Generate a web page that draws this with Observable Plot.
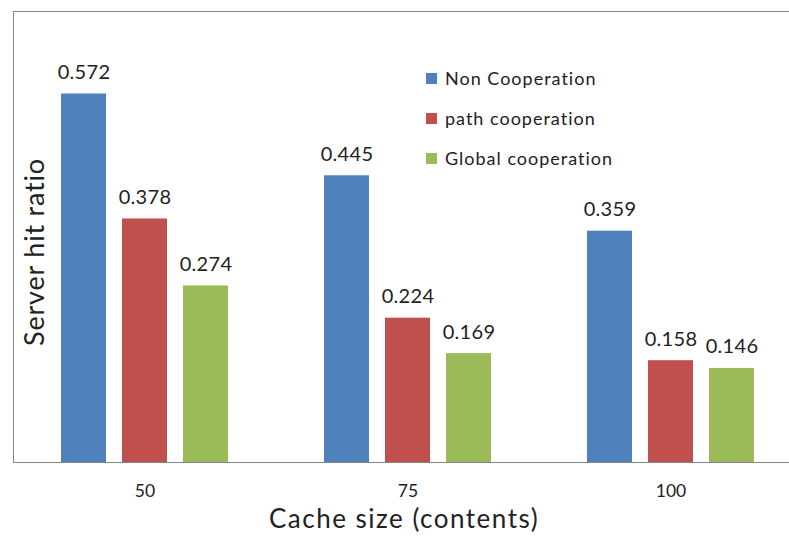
<!DOCTYPE html>
<html>
<head>
<meta charset="utf-8">
<script src="https://cdn.jsdelivr.net/npm/d3@7"></script>
<script src="https://cdn.jsdelivr.net/npm/@observablehq/plot@0.6"></script>
<style>
  html, body { margin: 0; padding: 0; background: #fff; overflow: hidden; width: 789px; height: 539px; }
  #chart { position: relative; width: 789px; height: 539px; overflow: hidden; }
  .legend { position: absolute; left: 426px; top: 66px; font-family: Lato, sans-serif; font-size: 18px; letter-spacing: 1px; color: #222; }
  .legend .row { display: flex; align-items: center; height: 24px; margin-bottom: 16px; white-space: nowrap; }
  .legend .sw { width: 11px; height: 11px; margin-right: 8px; flex: none; }
  .value-label text { letter-spacing: 0.3px; }
  .y-title text { letter-spacing: 0.8px; }
  .x-title text { letter-spacing: 1.5px; }
</style>
</head>
<body>
<div id="chart"></div>
<script>
// Server hit ratio by cache size for three caching strategies
const cacheSizes = ["50", "75", "100"];
const seriesNames = ["Non Cooperation", "path cooperation", "Global cooperation"];
const nonCooperation = [0.572, 0.445, 0.359];
const pathCooperation = [0.378, 0.224, 0.158];
const globalCooperation = [0.274, 0.169, 0.146];
const seriesColors = ["#4F81BD", "#C0504D", "#9BBB59"];

const seriesValues = [nonCooperation, pathCooperation, globalCooperation];
const rows = cacheSizes.flatMap((size, i) =>
  seriesNames.map((series, j) => ({size, series, value: seriesValues[j][i]}))
);

const axisGrey = "#868686";

const chart = Plot.plot({
  width: 803,
  height: 539,
  marginLeft: 12,
  marginRight: 0,
  marginTop: 11,
  marginBottom: 77,
  facet: {marginTop: 0, marginRight: 0, marginBottom: 0, marginLeft: 0},
  style: {fontFamily: "Lato, sans-serif", color: "#222", background: "white", maxWidth: "none"},
  fx: {domain: cacheSizes, padding: 0, label: null, axis: null},
  x: {domain: seriesNames, paddingInner: 0.268, paddingOuter: 0.772, axis: null},
  y: {domain: [0, 0.7], axis: null},
  color: {domain: seriesNames, range: seriesColors},
  marks: [
    Plot.axisFx({anchor: "bottom", tickSize: 0, tickPadding: 22, fontSize: 17.5, label: null}),
    Plot.barY(rows, {fx: "size", x: "series", y: "value", fill: "series"}),
    Plot.text(rows, {
      fx: "size", x: "series", y: "value",
      text: (d) => d.value.toFixed(3),
      lineAnchor: "bottom", dy: -15, fontSize: 20, fill: "#222",
      className: "value-label"
    }),
    Plot.frame({anchor: "top", stroke: axisGrey, facet: "super"}),
    Plot.frame({anchor: "bottom", stroke: axisGrey, facet: "super"}),
    Plot.frame({anchor: "left", stroke: axisGrey, facet: "super"}),
    Plot.text(["Server hit ratio"], {
      frameAnchor: "left", facet: "super", rotate: -90,
      textAnchor: "middle", lineAnchor: "middle",
      dx: 22, dy: 15, fontSize: 27, fill: "#222",
      className: "y-title"
    }),
    Plot.text(["Cache size (contents)"], {
      frameAnchor: "bottom", facet: "super",
      textAnchor: "middle", lineAnchor: "bottom",
      dx: -4, dy: 65, fontSize: 26, fill: "#222",
      className: "x-title"
    })
  ]
});

const container = document.getElementById("chart");
container.appendChild(chart);

// Legend
const legend = document.createElement("div");
legend.className = "legend";
seriesNames.forEach((name, i) => {
  const row = document.createElement("div");
  row.className = "row";
  const sw = document.createElement("span");
  sw.className = "sw";
  sw.style.background = seriesColors[i];
  const label = document.createElement("span");
  label.textContent = name;
  row.appendChild(sw);
  row.appendChild(label);
  legend.appendChild(row);
});
container.appendChild(legend);
</script>
</body>
</html>
